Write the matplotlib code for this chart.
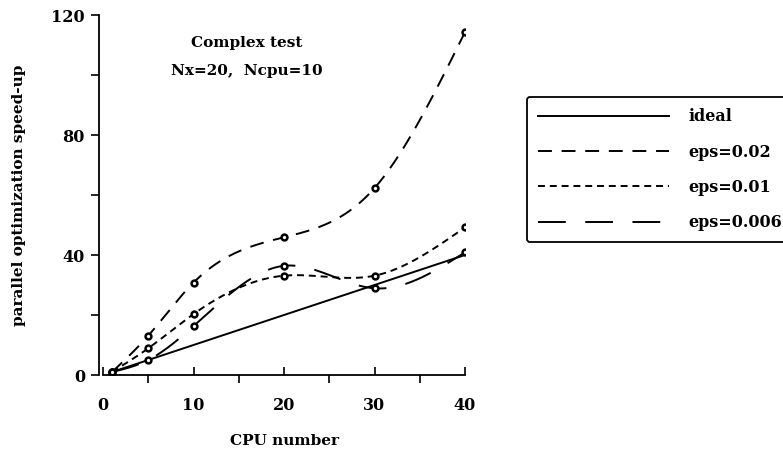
import numpy as np
import matplotlib
matplotlib.use("Agg")
import matplotlib.pyplot as plt

plt.rcParams['font.family'] = ['DejaVu Serif']
plt.rcParams['lines.scale_dashes'] = False

cpus = [1, 5, 10, 20, 30, 40]
ideal = [1, 5, 10, 20, 30, 40]
eps002 = [1, 13.1, 30.8, 45.9, 62.3, 114.3]
eps001 = [1, 8.9, 20.3, 33.1, 33.1, 49.2]
eps0006 = [1, 5.0, 16.3, 36.4, 28.9, 40.9]


def natural_spline(x, y, n=400):
    x = np.asarray(x, float)
    y = np.asarray(y, float)
    nn = len(x)
    h = np.diff(x)
    A = np.zeros((nn, nn))
    b = np.zeros(nn)
    A[0, 0] = 1
    A[-1, -1] = 1
    for i in range(1, nn - 1):
        A[i, i - 1] = h[i - 1]
        A[i, i] = 2 * (h[i - 1] + h[i])
        A[i, i + 1] = h[i]
        b[i] = 3 * ((y[i + 1] - y[i]) / h[i] - (y[i] - y[i - 1]) / h[i - 1])
    c = np.linalg.solve(A, b)
    xs = np.linspace(x[0], x[-1], n)
    idx = np.clip(np.searchsorted(x, xs) - 1, 0, nn - 2)
    dx = xs - x[idx]
    bc = (y[1:] - y[:-1]) / h - h * (2 * c[:-1] + c[1:]) / 3
    d = (c[1:] - c[:-1]) / (3 * h)
    ys = y[idx] + bc[idx] * dx + c[idx] * dx ** 2 + d[idx] * dx ** 3
    return xs, ys


fig = plt.figure(figsize=(7.83, 4.5), dpi=100)
ax = fig.add_axes([103 / 783, 1 - 375 / 450, 362 / 783, 360 / 450])

lw = 1.4
ax.plot(cpus, ideal, color='black', lw=lw, label='ideal')

styles = [
    (eps002, (0, (10, 7)), 'eps=0.02'),
    (eps001, (0, (5, 3.5)), 'eps=0.01'),
    (eps0006, (0, (20, 14)), 'eps=0.006'),
]
for ys, ls, lab in styles:
    sx, sy = natural_spline(cpus, ys)
    ax.plot(sx, sy, color='black', lw=lw, linestyle=ls, label=lab)
    ax.plot(cpus, ys, linestyle='none', marker='o', ms=4.2, mfc='white',
            mec='black', mew=1.8)

ax.set_xlim(0, 40)
ax.set_ylim(0, 120)
ax.set_xticks([0, 10, 20, 30, 40])
ax.set_xticks([5, 15, 25, 35], minor=True)
ax.set_yticks([0, 40, 80, 120])
ax.set_yticks([20, 60, 100], minor=True)
ax.spines['top'].set_visible(False)
ax.spines['right'].set_visible(False)
ax.spines['left'].set_position(('outward', 3))
for s in ax.spines.values():
    s.set_linewidth(1.3)
ax.tick_params(axis='both', which='major', length=6, width=1.2, labelsize=11.5)
ax.tick_params(axis='both', which='minor', length=6, width=1.2)
ax.tick_params(axis='y', direction='out', pad=4)
ax.tick_params(axis='x', direction='in', pad=16)
for t in ax.get_xticklabels() + ax.get_yticklabels():
    t.set_fontweight('bold')

ax.set_xlabel('CPU number', fontsize=11, fontweight='bold', labelpad=14)
ax.set_ylabel('parallel optimization speed-up', fontsize=11, fontweight='bold',
              labelpad=18)

ax.text(15.9, 110.7, 'Complex test', ha='center', va='center', fontsize=11,
        fontweight='bold')
ax.text(15.9, 101.5, 'Nx=20,  Ncpu=10', ha='center', va='center', fontsize=11,
        fontweight='bold')

leg = fig.legend(loc='upper left', bbox_to_anchor=(527 / 783, 1 - 97 / 450),
                 fontsize=11.5, handlelength=8.2, handletextpad=1.2,
                 labelspacing=1.15, fancybox=True, framealpha=1,
                 edgecolor='black', borderpad=0.7, borderaxespad=0)
leg.get_frame().set_linewidth(1.3)
for t in leg.get_texts():
    t.set_fontweight('bold')

fig.savefig('out.png', dpi=100)
